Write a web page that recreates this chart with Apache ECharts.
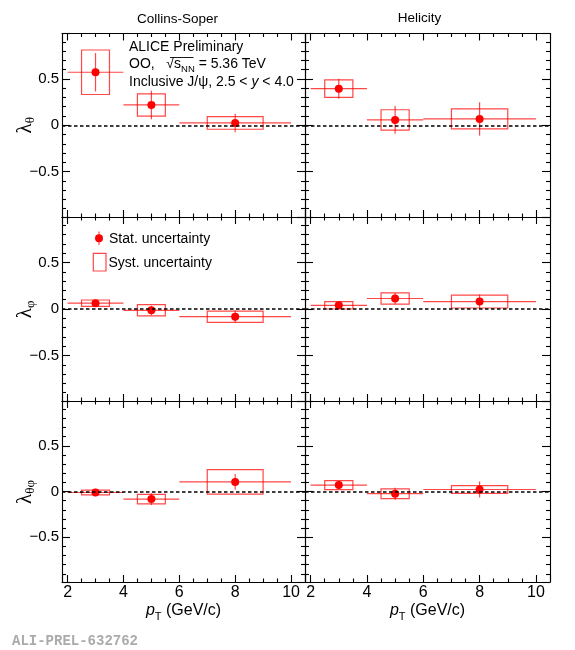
<!DOCTYPE html>
<html><head><meta charset="utf-8">
<script src="https://cdn.jsdelivr.net/npm/echarts@6/dist/echarts.min.js"></script>
<style>html,body{margin:0;padding:0;background:#fff}#c{width:575px;height:650px}</style>
</head><body><div id="c"></div>
<script>
// ---- data ----
const ptCenter = [3, 5, 8];
const ptLow = [2, 4, 6];
const ptHigh = [4, 6, 10];
const systHalfWidth = [0.5, 0.5, 1.0];

const lambdaThetaCS = [0.572, 0.219, 0.025];
const statThetaCS   = [0.207, 0.154, 0.100];
const systThetaCS   = [0.240, 0.120, 0.068];

const lambdaThetaHX = [0.395, 0.057, 0.068];
const statThetaHX   = [0.108, 0.150, 0.180];
const systThetaHX   = [0.094, 0.110, 0.108];

const lambdaPhiCS = [0.063, -0.014, -0.083];
const statPhiCS   = [0.030, 0.050, 0.066];
const systPhiCS   = [0.034, 0.061, 0.061];

const lambdaPhiHX = [0.040, 0.113, 0.080];
const statPhiHX   = [0.030, 0.060, 0.076];
const systPhiHX   = [0.040, 0.060, 0.069];

const lambdaThetaPhiCS = [-0.011, -0.083, 0.105];
const statThetaPhiCS   = [0.040, 0.065, 0.087];
const systThetaPhiCS   = [0.026, 0.052, 0.134];

const lambdaThetaPhiHX = [0.070, -0.024, 0.022];
const statThetaPhiHX   = [0.040, 0.066, 0.088];
const systThetaPhiHX   = [0.050, 0.053, 0.042];

const frameNames = ['Collins-Soper', 'Helicity'];
const xTickValues = [2, 4, 6, 8, 10];
const yTickValues = [-0.5, 0, 0.5];
const yTickLabels = ['\u22120.5', '0', '0.5'];
const xRange = [1.8, 10.5];
const yRange = [-0.99, 0.99];

// ---- layout / style ----
const FONT = 'Liberation Sans';
const RED = '#ff0000';
const ERR = 'rgba(255,0,0,0.72)';
const cols = [{left: 62, width: 243}, {left: 305, width: 245}];
const rows = [{top: 33.5, height: 183.5}, {top: 217, height: 184}, {top: 401, height: 181}];

const panels = [
  [lambdaThetaCS, statThetaCS, systThetaCS], [lambdaThetaHX, statThetaHX, systThetaHX],
  [lambdaPhiCS, statPhiCS, systPhiCS], [lambdaPhiHX, statPhiHX, systPhiHX],
  [lambdaThetaPhiCS, statThetaPhiCS, systThetaPhiCS], [lambdaThetaPhiHX, statThetaPhiHX, systThetaPhiHX]
];

function xFmt(v) {
  for (const t of xTickValues) if (Math.abs(v - t) < 1e-6) return String(t);
  return '';
}
function yFmt(v) {
  for (let i = 0; i < yTickValues.length; i++) if (Math.abs(v - yTickValues[i]) < 1e-6) return yTickLabels[i];
  return '';
}

const grid = [], xAxis = [], yAxis = [], series = [];
const black = {color: '#000', width: 1.1};

panels.forEach((pd, p) => {
  const r = Math.floor(p / 2), c = p % 2;
  grid.push({left: cols[c].left, width: cols[c].width, top: rows[r].top, height: rows[r].height,
             containLabel: false, outerBoundsMode: 'none'});
  ['bottom', 'top'].forEach((pos) => {
    xAxis.push({
      gridIndex: p, type: 'value', position: pos, min: xRange[0], max: xRange[1],
      minInterval: 2, maxInterval: 2,
      axisLine: {show: true, onZero: false, lineStyle: black},
      axisTick: {show: true, inside: true, length: 7, lineStyle: black},
      minorTick: {show: true, splitNumber: 4, length: 3.5, lineStyle: black},
      splitLine: {show: false}, minorSplitLine: {show: false},
      axisLabel: {show: pos === 'bottom' && r === 2, formatter: xFmt, fontSize: 16, color: '#000',
                  fontFamily: FONT, margin: 3, showMinLabel: true, showMaxLabel: true},
      silent: true
    });
  });
  ['left', 'right'].forEach((pos) => {
    yAxis.push({
      gridIndex: p, type: 'value', position: pos, min: yRange[0], max: yRange[1],
      minInterval: 0.5, maxInterval: 0.5,
      axisLine: {show: true, onZero: false, lineStyle: black},
      axisTick: {show: true, inside: true, length: 8, lineStyle: black},
      minorTick: {show: true, splitNumber: 5, length: 4, lineStyle: black},
      splitLine: {show: false}, minorSplitLine: {show: false},
      axisLabel: {show: pos === 'left' && c === 0, formatter: yFmt, fontSize: 15, color: '#000',
                  fontFamily: FONT, margin: 3},
      silent: true
    });
  });
  const [vals, stat, syst] = pd;
  const errData = ptCenter.map((x, i) => [x, vals[i], stat[i], syst[i], ptLow[i], ptHigh[i], systHalfWidth[i]]);
  series.push({
    type: 'custom', xAxisIndex: 2 * p, yAxisIndex: 2 * p, data: errData, encode: {x: 0, y: 1},
    silent: true, animation: false, clip: false, z: 2,
    renderItem: function (params, api) {
      const x = api.value(0), y = api.value(1), st = api.value(2), sy = api.value(3);
      const lo = api.value(4), hi = api.value(5), hw = api.value(6);
      const bl = api.coord([x - hw, y - sy]), tr = api.coord([x + hw, y + sy]);
      const pl = api.coord([lo, y]), pr = api.coord([hi, y]);
      const pt = api.coord([x, y + st]), pb = api.coord([x, y - st]);
      return {type: 'group', children: [
        {type: 'rect', shape: {x: bl[0], y: tr[1], width: tr[0] - bl[0], height: bl[1] - tr[1]},
         style: {fill: 'none', stroke: ERR, lineWidth: 1.2}},
        {type: 'line', shape: {x1: pl[0], y1: pl[1], x2: pr[0], y2: pr[1]}, style: {stroke: ERR, lineWidth: 1.2}},
        {type: 'line', shape: {x1: pt[0], y1: pt[1], x2: pb[0], y2: pb[1]}, style: {stroke: ERR, lineWidth: 1.2}}
      ]};
    }
  });
  series.push({
    type: 'scatter', xAxisIndex: 2 * p, yAxisIndex: 2 * p,
    data: ptCenter.map((x, i) => [x, vals[i]]),
    symbol: 'circle', symbolSize: 8, itemStyle: {color: RED, opacity: 1}, z: 4, silent: true, animation: false,
    markLine: {silent: true, symbol: 'none', animation: false, label: {show: false},
               lineStyle: {color: '#000', type: [3.5, 2.5], width: 1.6, opacity: 1},
               data: [{yAxis: 0}]}
  });
});

// ---- text elements ----
const subRich = (bigFam, bigSize, smallSize, pad) => ({
  m: {fontFamily: bigFam, fontSize: bigSize, lineHeight: bigSize, verticalAlign: 'top', fill: '#000'},
  mi: {fontFamily: bigFam, fontSize: bigSize, lineHeight: bigSize, verticalAlign: 'top', fontStyle: 'italic', fill: '#000'},
  s: {fontFamily: FONT, fontSize: smallSize, lineHeight: smallSize, padding: [pad, 0, 0, 0], verticalAlign: 'top', fill: '#000'},
  sg: {fontFamily: 'Liberation Serif', fontSize: smallSize, lineHeight: smallSize, padding: [pad, 0, 0, 0], verticalAlign: 'top', fill: '#000'}
});

const yTitles = [
  {y: 125.3, sub: '\u03b8'},
  {y: 309.3, sub: '\u03c6'},
  {y: 492, sub: '\u03b8\u03c6'}
];
const graphic = [];
frameNames.forEach((t, c) => {
  graphic.push({type: 'text', x: [177.5, 419.5][c], y: [19.5, 18.5][c],
    style: {text: t, font: '13.5px "Liberation Sans"', fill: '#000', align: 'center', verticalAlign: 'middle'}});
});
yTitles.forEach((t) => {
  graphic.push({type: 'text', x: 25.5, y: t.y, rotation: Math.PI / 2,
    style: {text: '{m|\u03bb}{sg|' + t.sub + '}', rich: subRich('Liberation Serif', 21, 13, 9),
            align: 'center', verticalAlign: 'middle'}});
});
[183.5, 427.5].forEach((cx) => {
  graphic.push({type: 'text', x: cx, y: 611,
    style: {text: '{mi|p}{s|T}{m| (GeV/c)}', rich: subRich(FONT, 16, 11, 8),
            align: 'center', verticalAlign: 'middle'}});
});
// annotation
const annRich = {
  m: {fontFamily: FONT, fontSize: 14, lineHeight: 14, verticalAlign: 'top', fill: '#000'},
  mi: {fontFamily: FONT, fontSize: 14, lineHeight: 14, verticalAlign: 'top', fontStyle: 'italic', fill: '#000'},
  s: {fontFamily: FONT, fontSize: 9.5, lineHeight: 9.5, padding: [7, 0, 0, 0], verticalAlign: 'top', fill: '#000'}
};
graphic.push({type: 'text', x: 129, y: 47, style: {text: 'ALICE Preliminary', font: '14px "Liberation Sans"', fill: '#000', verticalAlign: 'middle'}});
graphic.push({type: 'text', x: 129, y: 64.3, style: {text: '{m|OO,   \u221a}{m|s}{s|NN}{m| = 5.36 TeV}', rich: annRich, verticalAlign: 'middle'}});
graphic.push({type: 'line', shape: {x1: 170, y1: 57.5, x2: 193.5, y2: 57.5}, style: {stroke: '#000', lineWidth: 0.9}});
graphic.push({type: 'text', x: 129, y: 81.7, style: {text: '{m|Inclusive J/\u03c8, 2.5 < }{mi|y}{m| < 4.0}', rich: annRich, verticalAlign: 'middle'}});
// legend
graphic.push({type: 'line', shape: {x1: 99, y1: 231.5, x2: 99, y2: 245}, style: {stroke: ERR, lineWidth: 1.2}});
graphic.push({type: 'circle', shape: {cx: 99, cy: 238.3, r: 4}, style: {fill: RED}});
graphic.push({type: 'text', x: 109, y: 239, style: {text: 'Stat. uncertainty', font: '14px "Liberation Sans"', fill: '#000', verticalAlign: 'middle'}});
graphic.push({type: 'rect', shape: {x: 93.3, y: 253.3, width: 12.7, height: 17.7}, style: {fill: 'none', stroke: ERR, lineWidth: 1.2}});
graphic.push({type: 'text', x: 108.5, y: 263, style: {text: 'Syst. uncertainty', font: '14px "Liberation Sans"', fill: '#000', verticalAlign: 'middle'}});
// watermark
graphic.push({type: 'text', x: 12, y: 641, style: {text: 'ALI-PREL-632762', font: 'bold 14px "Liberation Mono"', fill: '#ababab', verticalAlign: 'middle'}});

const chart = echarts.init(document.getElementById('c'), null, {renderer: 'canvas'});
chart.setOption({
  backgroundColor: '#fff', animation: false,
  grid, xAxis, yAxis, series, graphic
});
</script></body></html>
